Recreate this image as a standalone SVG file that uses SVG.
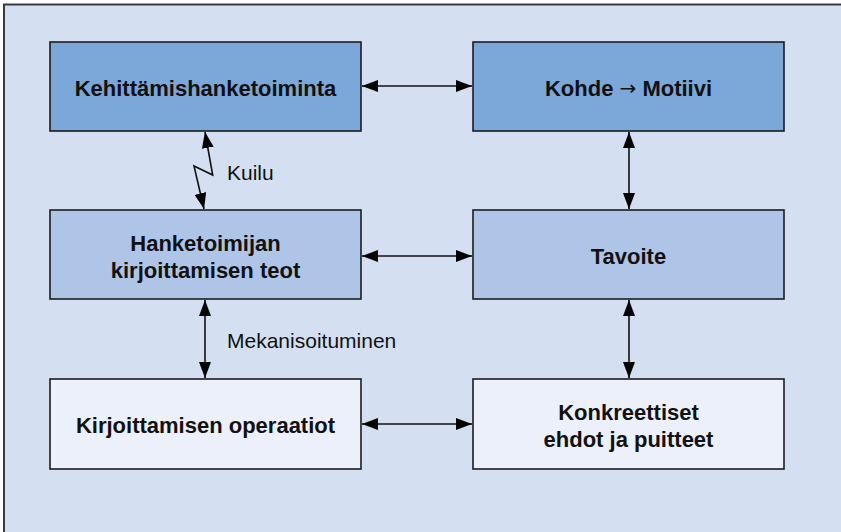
<svg xmlns="http://www.w3.org/2000/svg" width="841" height="532" viewBox="0 0 841 532">
  <defs>
    <marker id="tip" viewBox="0 0 16 12" refX="16" refY="6" markerWidth="16" markerHeight="12" markerUnits="userSpaceOnUse" orient="auto-start-reverse">
      <path d="M0,0 L16,6 L0,12 z" fill="#000"/>
    </marker>
    <style>
      .box { stroke: #1c1c1c; stroke-width: 1.6; }
      .dark { fill: #7ba7d9; }
      .mid { fill: #afc5e7; }
      .light { fill: #ecf0fa; }
      .lbl { font-family: "Liberation Sans", Arial, sans-serif; font-weight: bold; font-size: 22px; fill: #111; text-anchor: middle; }
      .note { font-family: "Liberation Sans", Arial, sans-serif; font-size: 21px; fill: #111; }
      .sym { font-family: "DejaVu Sans", sans-serif; font-weight: normal; font-size: 20px; }
      .link { fill: none; stroke: #111; stroke-width: 1.6; marker-start: url(#tip); marker-end: url(#tip); }
    </style>
  </defs>

  <!-- panel background with top and left rule -->
  <rect x="0" y="0" width="841" height="532" fill="#ffffff"/>
  <rect x="4" y="4" width="837" height="528" fill="#d4e0f1"/>
  <path d="M4,532 V4.5 H841" fill="none" stroke="#3a3a3a" stroke-width="2"/>

  <!-- connectors -->
  <g id="connectors">
    <path class="link" d="M362,86 H472"/>
    <path class="link" d="M362,256 H472"/>
    <path class="link" d="M362,424 H472"/>
    <path class="link" d="M629,132 V209"/>
    <path class="link" d="M629,300 V378"/>
    <path class="link" d="M205,300 V378"/>
    <path class="link" d="M205,132 L212.7,175 L194,166 L204,209"/>
    <text class="note" x="227" y="180">Kuilu</text>
    <text class="note" x="227" y="348">Mekanisoituminen</text>
  </g>

  <g id="kehittamishanketoiminta">
    <rect class="box dark" x="50" y="42" width="311" height="89"/>
    <text class="lbl" x="205.5" y="96">Kehittämishanketoiminta</text>
  </g>

  <g id="kohde-motiivi">
    <rect class="box dark" x="473" y="42" width="311" height="89"/>
    <text class="lbl" x="628.5" y="96">Kohde <tspan class="sym" dy="-1">→</tspan><tspan dy="1"> Motiivi</tspan></text>
  </g>

  <g id="hanketoimijan-teot">
    <rect class="box mid" x="50" y="210" width="311" height="89"/>
    <text class="lbl" x="205.5" y="251">Hanketoimijan</text>
    <text class="lbl" x="205.5" y="278">kirjoittamisen teot</text>
  </g>

  <g id="tavoite">
    <rect class="box mid" x="473" y="210" width="311" height="89"/>
    <text class="lbl" x="628.5" y="264">Tavoite</text>
  </g>

  <g id="kirjoittamisen-operaatiot">
    <rect class="box light" x="50" y="379" width="311" height="90"/>
    <text class="lbl" x="205.5" y="433">Kirjoittamisen operaatiot</text>
  </g>

  <g id="konkreettiset-ehdot">
    <rect class="box light" x="473" y="379" width="311" height="90"/>
    <text class="lbl" x="628.5" y="420">Konkreettiset</text>
    <text class="lbl" x="628.5" y="447">ehdot ja puitteet</text>
  </g>
</svg>
